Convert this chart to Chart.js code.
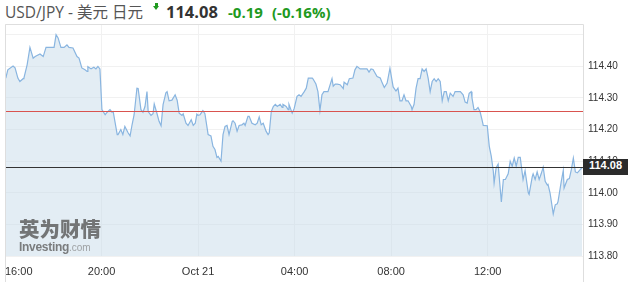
<!DOCTYPE html>
<html>
<head>
<meta charset="utf-8">
<script src="https://cdn.jsdelivr.net/npm/chart.js@4.4.1/dist/chart.umd.min.js"></script>
<style>
  html, body { margin: 0; padding: 0; background: #fff; }
  body { width: 633px; height: 282px; position: relative; overflow: hidden; font-family: "Open Sans", "Noto Sans CJK SC", sans-serif; }
  .hd { position: absolute; top: 0; height: 24px; line-height: 24px; white-space: nowrap; }
  #name { left: 5px; font-size: 15.5px; color: #555; }
  #arrow { left: 153px; top: 3px; width: 7px; height: 7px; }
  #arrow .stem { position: absolute; left: 2px; top: 0; width: 3px; height: 3px; background: #1f9a1f; }
  #arrow .head { position: absolute; left: 0; top: 3px; width: 0; height: 0; border-left: 3.5px solid transparent; border-right: 3.5px solid transparent; border-top: 4px solid #1f9a1f; }
  #last { left: 166px; font-size: 16.5px; font-weight: bold; color: #333; }
  #chg { left: 228px; font-size: 15px; font-weight: bold; color: #1f9a1f; }
  #pct { left: 272px; font-size: 15px; font-weight: bold; color: #1f9a1f; }
  #wrap { position: absolute; left: 0; top: 24px; width: 633px; height: 258px; }
  #badge { position: absolute; left: 583px; width: 45px; height: 16px; line-height: 16px; background: #2b2b2b; color: #fff;
           font: bold 11px Arial, "Liberation Sans", sans-serif; text-align: center; }
  #wm1 { position: absolute; left: 19px; top: 213px; font-size: 20.5px; font-weight: 900; color: rgba(95,95,95,0.85);
         font-family: "Noto Sans CJK SC", sans-serif; }
  #wm2 { position: absolute; left: 19px; top: 240px; font-size: 11px; color: rgba(95,95,95,0.8); font-family: Arial, "Liberation Sans", sans-serif; }
  #wm2 b { font-size: 12px; letter-spacing: -0.3px; }
  #wm2 span { color: rgba(130,130,130,0.7); font-size: 10px; }
</style>
</head>
<body>
<div class="hd" id="name">USD/JPY - 美元 日元</div>
<div class="hd" id="arrow"><div class="stem"></div><div class="head"></div></div>
<div class="hd" id="last">114.08</div>
<div class="hd" id="chg">-0.19</div>
<div class="hd" id="pct">(-0.16%)</div>
<div id="wrap"><canvas id="c" width="633" height="258"></canvas></div>
<div id="wm1">英为财情</div>
<div id="wm2"><b>Investing</b><span>.com</span></div>
<div id="badge">114.08</div>
<script>
// minutes after 16:00 (Oct 20)
const minutes = [2, 7, 20, 25, 32, 37, 45, 47, 55, 62, 70, 75, 87, 95, 102, 122, 127, 132, 139, 147,
  154, 159, 169, 179, 184, 191, 199, 204, 206, 214, 221, 226, 231, 236, 241, 249, 254, 261, 266, 269,
  279, 281, 288, 293, 298, 306, 311, 316, 321, 328, 331, 338, 343, 348, 353, 356, 363, 368, 371, 378,
  383, 388, 393, 400, 403, 408, 415, 423, 428, 433, 440, 443, 450, 455, 463, 468, 473, 477, 480, 485,
  492, 497, 505, 512, 517, 522, 527, 530, 537, 542, 547, 552, 557, 565, 567, 572, 577, 582, 589, 594,
  597, 604, 607, 614, 622, 627, 632, 637, 642, 649, 654, 657, 662, 667, 672, 677, 684, 689, 691, 699,
  704, 706, 714, 719, 726, 731, 736, 744, 749, 754, 764, 766, 773, 778, 783, 788, 793, 803, 813, 816,
  821, 826, 833, 841, 843, 851, 856, 865, 870, 875, 883, 900, 905, 910, 915, 925, 933, 938, 943, 950,
  957, 965, 972, 977, 982, 987, 992, 997, 1002, 1010, 1012, 1017, 1022, 1027, 1032, 1037, 1042, 1047, 1052, 1057,
  1062, 1067, 1072, 1077, 1082, 1087, 1092, 1097, 1102, 1107, 1114, 1119, 1132, 1139, 1144, 1149, 1154, 1159, 1161, 1166,
  1171, 1176, 1181, 1186, 1189, 1199, 1204, 1209, 1214, 1216, 1221, 1226, 1234, 1239, 1244, 1251, 1256, 1261, 1266, 1271,
  1276, 1281, 1288, 1293, 1301, 1303, 1311, 1313, 1318, 1323, 1328, 1333, 1338, 1343, 1348, 1350, 1355, 1363, 1368, 1373,
  1375, 1383, 1388, 1390, 1398, 1403, 1408, 1413, 1418, 1423, 1430, 1435];

const prices = [114.363, 114.389, 114.401, 114.395, 114.363, 114.352, 114.361, 114.363, 114.405, 114.460, 114.426, 114.431, 114.439, 114.431, 114.460, 114.460, 114.500, 114.490, 114.460, 114.460,
  114.468, 114.460, 114.458, 114.431, 114.426, 114.395, 114.389, 114.384, 114.399, 114.392, 114.397, 114.392, 114.400, 114.392, 114.263, 114.247, 114.255, 114.263, 114.255, 114.257,
  114.184, 114.184, 114.200, 114.184, 114.210, 114.190, 114.180, 114.216, 114.247, 114.331, 114.330, 114.263, 114.255, 114.273, 114.320, 114.257, 114.245, 114.250, 114.281, 114.250,
  114.226, 114.212, 114.279, 114.316, 114.320, 114.291, 114.293, 114.310, 114.293, 114.252, 114.245, 114.250, 114.220, 114.213, 114.231, 114.213, 114.220, 114.249, 114.245, 114.247,
  114.260, 114.250, 114.184, 114.180, 114.147, 114.137, 114.112, 114.115, 114.100, 114.184, 114.210, 114.213, 114.184, 114.226, 114.228, 114.220, 114.195, 114.213, 114.215, 114.220,
  114.213, 114.242, 114.242, 114.220, 114.215, 114.220, 114.240, 114.215, 114.220, 114.195, 114.184, 114.190, 114.257, 114.273, 114.280, 114.273, 114.280, 114.270, 114.280, 114.273,
  114.263, 114.280, 114.252, 114.267, 114.305, 114.310, 114.305, 114.320, 114.331, 114.363, 114.363, 114.360, 114.344, 114.320, 114.260, 114.310, 114.320, 114.320, 114.361, 114.337,
  114.344, 114.344, 114.342, 114.330, 114.350, 114.342, 114.361, 114.363, 114.389, 114.400, 114.392, 114.392, 114.382, 114.392, 114.390, 114.368, 114.363, 114.347, 114.333, 114.347,
  114.394, 114.335, 114.322, 114.331, 114.291, 114.291, 114.310, 114.291, 114.291, 114.273, 114.263, 114.280, 114.331, 114.361, 114.361, 114.392, 114.384, 114.392, 114.363, 114.320,
  114.352, 114.361, 114.352, 114.361, 114.352, 114.291, 114.320, 114.320, 114.291, 114.315, 114.305, 114.320, 114.320, 114.310, 114.287, 114.284, 114.315, 114.320, 114.300, 114.263,
  114.263, 114.270, 114.257, 114.231, 114.213, 114.212, 114.147, 114.115, 114.068, 114.031, 114.079, 114.091, 113.971, 114.042, 114.042, 114.060, 114.100, 114.084, 114.110, 114.084,
  114.112, 114.112, 114.042, 114.070, 114.000, 113.995, 114.052, 114.060, 114.042, 114.066, 114.042, 114.060, 114.081, 114.036, 114.025, 114.027, 114.000, 113.933, 113.962, 113.965,
  113.973, 114.036, 114.071, 114.015, 114.042, 114.045, 114.073, 114.110, 114.066, 114.063, 114.073, 114.080];

const xTickMinutes = [0, 240, 480, 720, 960, 1200];
const xTickLabels = ['16:00', '20:00', 'Oct 21', '04:00', '08:00', '12:00'];
const yTicks = [113.8, 113.9, 114.0, 114.1, 114.2, 114.3, 114.4, 114.5];
const lastPrice = 114.08;
const prevClose = 114.26;

const refLines = {
    id: 'refLines',
    afterDatasetsDraw(chart) {
        const { ctx, chartArea: a, scales: { y } } = chart;
        ctx.save();
        ctx.lineWidth = 1;
        [[prevClose, '#d9534f'], [lastPrice, '#333']].forEach(([v, col]) => {
            const py = Math.round(y.getPixelForValue(v)) + 0.5;
            ctx.strokeStyle = col;
            ctx.beginPath();
            ctx.moveTo(a.left, py);
            ctx.lineTo(a.right, py);
            ctx.stroke();
        });
        // frame
        ctx.strokeStyle = '#dedede';
        ctx.beginPath();
        ctx.moveTo(a.left + 0.5, chart.height);
        ctx.lineTo(a.left + 0.5, 0.5);
        ctx.lineTo(a.right + 0.5, 0.5);
        ctx.lineTo(a.right + 0.5, chart.height);
        ctx.stroke();
        ctx.restore();
        const badge = document.getElementById('badge');
        badge.style.top = (24 + y.getPixelForValue(lastPrice) - 8) + 'px';
        badge.style.left = (a.right) + 'px';
    }
};

new Chart(document.getElementById('c'), {
    type: 'line',
    data: {
        datasets: [{
            data: minutes.map((m, i) => ({ x: m, y: prices[i] })),
            borderColor: '#89b5e0',
            backgroundColor: 'rgba(200,219,233,0.5)',
            fill: 'start',
            borderWidth: 1.2,
            pointRadius: 0,
            tension: 0
        }]
    },
    options: {
        responsive: false,
        animation: false,
        layout: { padding: { left: 5, right: 0, top: 0, bottom: 0 } },
        plugins: { legend: { display: false }, tooltip: { enabled: false } },
        scales: {
            x: {
                type: 'linear',
                min: 0,
                max: 1437,
                afterBuildTicks: s => { s.ticks = xTickMinutes.map(v => ({ value: v })); },
                afterFit: s => { s.height = 26; s.paddingLeft = 0; s.paddingRight = 0; },
                grid: { color: '#f1f1f1', drawTicks: false },
                border: { display: false },
                ticks: {
                    color: '#333',
                    padding: 9,
                    maxRotation: 0,
                    font: { family: 'Arial, "Liberation Sans"', size: 11 },
                    callback: v => {
                        const lbl = xTickLabels[xTickMinutes.indexOf(v)];
                        return v === 0 ? ' '.repeat(9) + lbl : lbl;
                    }
                }
            },
            y: {
                position: 'right',
                min: 113.8,
                max: 114.534,
                afterBuildTicks: s => { s.ticks = yTicks.map(v => ({ value: v })); },
                afterFit: s => { s.width = 50; s.paddingTop = 0; s.paddingBottom = 0; },
                grid: { color: '#f1f1f1', drawTicks: false },
                border: { display: false },
                ticks: {
                    color: '#333',
                    padding: 5,
                    font: { family: 'Arial, "Liberation Sans"', size: 10 },
                    callback: v => (Math.abs(v - 114.5) < 1e-6 ? '' : v.toFixed(2))
                }
            }
        }
    },
    plugins: [refLines]
});
</script>
</body>
</html>
